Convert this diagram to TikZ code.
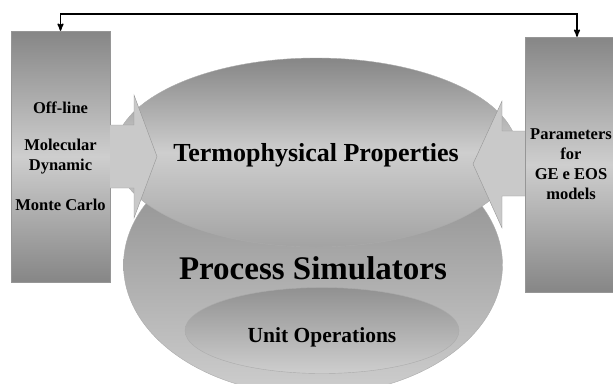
\documentclass[tikz,border=0pt]{standalone}
\usepackage{fontspec}
\setmainfont{Liberation Serif}
\usetikzlibrary{arrows,shapes.geometric}

\definecolor{shadedark}{RGB}{134,134,134}
\definecolor{shadelight}{RGB}{206,206,206}
\definecolor{arrowfill}{RGB}{201,201,201}
\definecolor{rimgray}{RGB}{150,150,150}

\begin{document}
\begin{tikzpicture}[x=1pt,y=-1pt,>=stealth',
    box/.style={rectangle,draw=rimgray,thin,top color=shadedark,bottom color=shadedark,
        middle color=shadelight,inner sep=0pt,align=center,
        font=\bfseries\fontsize{16.5}{20}\selectfont},
    blob/.style={ellipse,draw=rimgray!80,thin,inner sep=0pt,top color=shadedark,
        bottom color=shadedark!60!shadelight,middle color=shadelight,text depth=0pt},
    blockarrow/.style={fill=arrowfill,draw=rimgray,thin}]
    \clip (0,0) rectangle (613,383);

    % core of the scheme
    \node[blob,minimum width=374pt,minimum height=260pt,bottom color=shadelight,text height=28pt,
          font=\bfseries\fontsize{33}{36}\selectfont] (sim) at (313,265) {Process Simulators};
    \node[blob,minimum width=318pt,minimum height=189pt,
          font=\bfseries\fontsize{26}{30}\selectfont] (thermo) at (316,152.5) {Termophysical Properties};
    \node[blob,minimum width=274pt,minimum height=86pt,top color=shadedark!85!shadelight,
          bottom color=shadelight,text height=24pt,
          font=\bfseries\fontsize{21.5}{24}\selectfont] (unitop) at (322,330.5) {Unit Operations};

    % side sources
    \node[box,minimum width=99pt,minimum height=251pt] (offline) at (60.5,156.5)
        {Off-line\\[17pt]Molecular\\Dynamic\\[20pt]Monte Carlo};
    \node[box,minimum width=104pt,minimum height=255pt] (params) at (577,164.5)
        {\hspace*{-12pt}Parameters\\\hspace*{-12pt}for\\\hspace*{-12pt}GE e EOS\\\hspace*{-12pt}models};

    \path[blockarrow] (offline.east |- 0,125) -- (134,125) -- (134,95) -- (157,156.5)
        -- (134,218) -- (134,188) -- (offline.east |- 0,188);
    \path[blockarrow] (params.west |- 0,131) -- (502,131) -- (502,101) -- (473,164)
        -- (502,228) -- (502,196) -- (params.west |- 0,196);

    \draw[<->,line width=1.5pt] (offline.north) -- ++(0,-17) -| (params.north);
\end{tikzpicture}
\end{document}
